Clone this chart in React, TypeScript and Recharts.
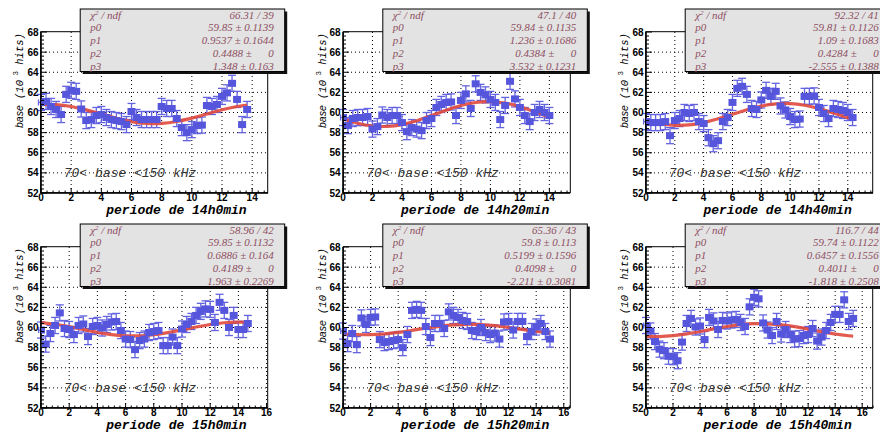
import { ComposedChart, Scatter, Line, XAxis, YAxis, ErrorBar, CartesianGrid } from 'recharts';

// bins of 20 min, x in hours
const BIN = 1 / 3;
const X_ERR = BIN / 2;
const Y_ERR = 0.8;

const Y_TICKS = [52, 54, 56, 58, 60, 62, 64, 66, 68];
const X_TICKS_TOP = [0, 2, 4, 6, 8, 10, 12, 14];
const X_TICKS_BOTTOM = [0, 2, 4, 6, 8, 10, 12, 14, 16];

const PERIODS = ['14h0min', '14h20min', '14h40min', '15h0min', '15h20min', '15h40min'];
const X_MAX = [15.05, 15.4, 15.75, 16.1, 16.45, 16.8];

const base14h0 = [61.0, 61.1, 60.6, 60.3, 59.8, 61.8, 62.2, 62.1, 60.35, 59.2, 59.3, 59.7, 59.8, 59.5, 59.3, 59.2, 59.1, 58.8, 60.1, 59.5, 59.3, 59.3, 59.3, 59.3, 60.6, 60.4, 60.4, 59.4, 58.5, 58.0, 58.3, 58.7, 58.75, 60.7, 60.6, 60.8, 61.6, 61.95, 62.9, 61.3, 58.8, 60.3];
const base14h20 = [59.5, 58.7, 59.4, 59.5, 59.5, 59.6, 58.35, 58.6, 59.75, 59.5, 59.7, 59.7, 59.0, 58.1, 58.5, 58.35, 58.2, 59.2, 59.4, 60.5, 60.8, 61.0, 61.05, 59.7, 61.2, 61.85, 60.4, 62.85, 62.0, 61.75, 61.3, 61.0, 59.3, 60.7, 63.1, 61.35, 60.5, 59.7, 59.1, 60.0, 60.3, 60.0, 59.7];
const base14h40 = [59.1, 59.0, 59.0, 59.0, 59.1, 57.7, 59.2, 59.4, 60.0, 59.9, 60.0, 59.1, 58.9, 57.5, 56.9, 57.2, 59.1, 59.5, 61.0, 62.4, 62.6, 61.8, 60.4, 60.3, 61.25, 62.2, 61.6, 62.1, 60.65, 60.25, 59.6, 59.3, 59.35, 61.6, 61.6, 61.65, 60.5, 59.9, 59.4, 60.4, 60.3, 60.2, 60.0, 59.5];
const base15h0 = [59.75, 58.35, 59.4, 60.2, 61.45, 59.9, 59.8, 59.3, 60.2, 60.35, 59.1, 60.1, 60.2, 59.95, 60.3, 60.55, 60.6, 59.7, 58.85, 58.8, 57.8, 58.7, 58.85, 59.5, 59.6, 59.7, 58.2, 58.2, 59.05, 58.2, 59.85, 60.3, 60.6, 61.2, 61.6, 61.85, 61.8, 60.5, 62.5, 61.7, 60.0, 61.2, 59.8, 59.8, 60.4];
const base15h20 = [59.65, 58.4, 59.4, 58.3, 60.95, 60.3, 61.0, 61.05, 58.8, 58.5, 58.6, 58.7, 58.8, 58.0, 59.3, 61.7, 61.8, 61.7, 60.1, 59.0, 60.4, 60.4, 59.9, 61.55, 61.2, 61.0, 60.7, 60.6, 59.7, 59.6, 60.0, 59.5, 59.3, 59.45, 58.85, 60.55, 60.6, 59.75, 60.6, 60.6, 59.1, 59.6, 60.05, 60.4, 59.6, 58.85];
const base15h40 = [60.2, 59.65, 58.6, 57.85, 57.7, 57.15, 57.1, 56.7, 58.55, 60.4, 60.9, 60.05, 60.15, 58.8, 61.0, 60.65, 59.8, 60.7, 60.65, 60.75, 60.8, 60.5, 60.1, 62.05, 63.0, 62.85, 60.45, 59.75, 59.2, 60.6, 59.35, 59.8, 59.3, 58.85, 58.9, 59.2, 59.3, 59.9, 58.65, 59.05, 59.7, 60.5, 61.3, 61.3, 62.75, 60.6, 60.9];

// fitted sine curves, read at whole hours
const fitX14h0 = [0, 1, 2, 3, 4, 5, 6, 7, 8, 9, 10, 11, 12, 13, 13.67];
const fitY14h0 = [60.78, 60.78, 60.6, 60.26, 59.85, 59.43, 59.1, 58.92, 58.92, 59.11, 59.44, 59.85, 60.27, 60.6, 60.74];
const fitX14h20 = [0, 1, 2, 3, 4, 5, 6, 7, 8, 9, 10, 11, 12, 13, 14];
const fitY14h20 = [59.37, 58.93, 58.66, 58.62, 58.8, 59.18, 59.69, 60.23, 60.69, 60.99, 61.07, 60.93, 60.57, 60.08, 59.54];
const fitX14h40 = [0, 1, 2, 3, 4, 5, 6, 7, 8, 9, 10, 11, 12, 13, 14, 14.33];
const fitY14h40 = [59.21, 58.88, 58.73, 58.77, 59.0, 59.37, 59.83, 60.28, 60.64, 60.86, 60.89, 60.72, 60.39, 59.95, 59.49, 59.34];
const fitX15h0 = [0, 1, 2, 3, 4, 5, 6, 7, 8, 9, 10, 11, 12, 13, 14, 14.67];
const fitY15h0 = [60.49, 60.32, 60.08, 59.8, 59.52, 59.3, 59.18, 59.17, 59.28, 59.49, 59.76, 60.05, 60.3, 60.47, 60.54, 60.52];
const fitX15h20 = [0, 1, 2, 3, 4, 5, 6, 7, 8, 9, 10, 11, 12, 13, 14, 15];
const fitY15h20 = [59.38, 59.29, 59.29, 59.37, 59.52, 59.72, 59.93, 60.12, 60.26, 60.32, 60.29, 60.19, 60.02, 59.81, 59.6, 59.43];
const fitX15h40 = [0, 1, 2, 3, 4, 5, 6, 7, 8, 9, 10, 11, 12, 13, 14, 15, 15.33];
const fitY15h40 = [59.11, 59.1, 59.19, 59.37, 59.6, 59.86, 60.1, 60.28, 60.38, 60.37, 60.26, 60.08, 59.83, 59.58, 59.35, 59.18, 59.14];

const SP = '\u00a0';
const CHI2 = ['66.31 / 39', '47.1 / 40', '92.32 / 41', '58.96 / 42', '65.36 / 43', '116.7 / 44'];
const P0 = ['59.85 ± 0.1139', '59.84 ± 0.1135', '59.81 ± 0.1126', '59.85 ± 0.1132', '59.8 ± 0.113', '59.74 ± 0.1122'];
const P1 = ['0.9537 ± 0.1644', '1.236 ± 0.1686', '1.09 ± 0.1683', '0.6886 ± 0.164', '0.5199 ± 0.1596', '0.6457 ± 0.1556'];
const P2 = ['0.4488', '0.4384', '0.4284', '0.4189', '0.4098', '0.4011'].map((v) => v + ' ±' + SP.repeat(6) + '0');
const P3 = ['1.348 ± 0.163', '3.532 ± 0.1231', '-2.555 ± 0.1388', '1.963 ± 0.2269', '-2.211 ± 0.3081', '-1.818 ± 0.2508'];

const BASES = [base14h0, base14h20, base14h40, base15h0, base15h20, base15h40];
const FIT_X = [fitX14h0, fitX14h20, fitX14h40, fitX15h0, fitX15h20, fitX15h40];
const FIT_Y = [fitY14h0, fitY14h20, fitY14h40, fitY15h0, fitY15h20, fitY15h40];

// layout
const PLOT_LEFT = [40.7, 343.3, 645.7];
const PLOT_TOP = [31.7, 246.7];
const PLOT_W = 227;
const PLOT_H = 161;
const ML = 40;
const MT = 10;
const MB = 20;

const MARKER = '#5656dc';
const ERRCOL = '#6464e0';
const FIT = '#e0483c';
const STAT = '#8e4f62';
const MONO = '"Liberation Mono", "DejaVu Sans Mono", monospace';
const SANS = '"Liberation Sans", Arial, sans-serif';
const SERIF = '"Liberation Serif", "Times New Roman", serif';

const isMajor = (v: number) => Math.abs(v / 2 - Math.round(v / 2)) < 1e-6;

function minorTicks(min: number, max: number) {
  const out: number[] = [];
  for (let k = 0; min + k * 0.4 <= max + 1e-9; k++) out.push(Math.round((min + k * 0.4) * 10) / 10);
  return out;
}

function renderXTick(props: any) {
  const { x, y, payload } = props;
  const major = isMajor(payload.value);
  return (
    <g key={'x' + payload.value}>
      <line x1={x} x2={x} y1={y} y2={y - (major ? 5 : 2.5)} stroke="#000" strokeWidth={1} />
      {major && (
        <text x={x} y={y + 8} textAnchor="middle" fontSize={10} fontWeight="bold" fontFamily={SANS} fill="#000">
          {payload.value}
        </text>
      )}
    </g>
  );
}

function renderYTick(props: any) {
  const { x, y, payload } = props;
  const major = isMajor(payload.value);
  return (
    <g key={'y' + payload.value}>
      <line x1={x} x2={x + (major ? 6 : 3)} y1={y} y2={y} stroke="#000" strokeWidth={1} />
      {major && (
        <text x={x - 2.5} y={y + 3.5} textAnchor="end" fontSize={10} fontWeight="bold" fontFamily={SANS} fill="#000">
          {payload.value}
        </text>
      )}
    </g>
  );
}

function Square(props: any) {
  const { cx, cy } = props;
  if (cx == null || cy == null) return null;
  return <rect x={cx - 4} y={cy - 3.5} width={8} height={7} fill={MARKER} />;
}

function Panel({ idx }: { idx: number }) {
  const col = idx % 3;
  const row = Math.floor(idx / 3);
  const pl = PLOT_LEFT[col];
  const pt = PLOT_TOP[row];
  const xMax = X_MAX[idx];
  const majorsX = row === 0 ? X_TICKS_TOP : X_TICKS_BOTTOM;
  const pts = BASES[idx].map((y, i) => ({ x: i * BIN, y, ex: X_ERR, ey: Y_ERR }));
  const fit = FIT_X[idx].map((x, i) => ({ x, y: FIT_Y[idx][i] }));

  return (
    <div style={{ position: 'absolute', left: pl - ML, top: pt - MT }}>
      <ComposedChart width={PLOT_W + ML + 10} height={PLOT_H + MT + MB} margin={{ top: MT, right: 10, bottom: 0, left: 0 }}>
        <CartesianGrid
          stroke="#000"
          strokeDasharray="1 3"
          verticalValues={majorsX.filter((v) => v > 0 && v < xMax)}
          horizontalValues={Y_TICKS.filter((v) => v > 52 && v < 68)}
        />
        <XAxis
          type="number"
          dataKey="x"
          domain={[0, xMax]}
          allowDataOverflow
          ticks={minorTicks(0, xMax)}
          interval={0}
          tick={renderXTick}
          tickLine={false}
          tickSize={0}
          tickMargin={0}
          height={MB}
          axisLine={{ stroke: '#000', strokeWidth: 1.5 }}
        />
        <YAxis
          type="number"
          dataKey="y"
          domain={[52, 68]}
          allowDataOverflow
          ticks={minorTicks(52, 68)}
          interval={0}
          tick={renderYTick}
          tickLine={false}
          tickSize={0}
          tickMargin={0}
          width={ML}
          axisLine={{ stroke: '#000', strokeWidth: 1.5 }}
        />
        <Scatter data={pts} dataKey="y" shape={<Square />} isAnimationActive={false}>
          <ErrorBar dataKey="ey" direction="y" width={4} stroke={ERRCOL} strokeWidth={1.3} />
          <ErrorBar dataKey="ex" direction="x" width={3} stroke={ERRCOL} strokeWidth={1.3} />
        </Scatter>
        <Line
          data={fit}
          dataKey="y"
          type="natural"
          stroke={FIT}
          strokeOpacity={0.9}
          strokeWidth={3.2}
          dot={false}
          activeDot={false}
          isAnimationActive={false}
        />
      </ComposedChart>
    </div>
  );
}

function Decorations({ idx }: { idx: number }) {
  const col = idx % 3;
  const row = Math.floor(idx / 3);
  const pl = PLOT_LEFT[col];
  const pt = PLOT_TOP[row];
  const y54 = pt + ((68 - 54) / 16) * PLOT_H;
  const bx = pl + 39.5;
  const by = pt - 22.7;
  const bw = 204.5;
  const bh = 62.5;
  const rows = [P0[idx], P1[idx], P2[idx], P3[idx]];
  const names = ['p0', 'p1', 'p2', 'p3'];
  return (
    <g>
      <rect x={pl} y={pt} width={PLOT_W} height={PLOT_H} fill="none" stroke="#000" strokeWidth={1} />
      <text
        transform={`translate(${pl - 17.5},${pt + 1.5}) rotate(-90)`}
        textAnchor="end"
        fontSize={10.5}
        fill="#000"
      >
        <tspan fontFamily={SANS} fontStyle="italic">base</tspan>
        <tspan fontFamily={MONO} fontStyle="italic">{SP + '(10'}</tspan>
        <tspan dy={-5} fontFamily={MONO} fontSize={7.5}>{SP + '3'}</tspan>
        <tspan dy={5} fontFamily={MONO} fontStyle="italic">{SP + 'hits)'}</tspan>
      </text>
      <text
        x={pl + PLOT_W - 21}
        y={pt + PLOT_H + 21}
        textAnchor="end"
        fontFamily={MONO}
        fontWeight="bold"
        fontStyle="italic"
        fontSize={13}
        fill="#000"
      >
        {'periode de ' + PERIODS[idx]}
      </text>
      <text x={pl + 23} y={y54 + 4} fontFamily={MONO} fontStyle="italic" fontSize={13} fill="#333">
        {'70<' + SP + 'base' + SP + '<150' + SP + 'kHz'}
      </text>
      <rect x={bx + 2.5} y={by + 2.5} width={bw} height={bh} fill="#111" />
      <rect x={bx} y={by} width={bw} height={bh} fill="#e3e3e3" stroke="#000" strokeWidth={1} />
      <g fontFamily={SERIF} fontStyle="italic" fontSize={11} fill={STAT}>
        <text x={bx + 10} y={by + 9.5}>
          <tspan>χ</tspan>
          <tspan dy={-4} fontSize={7}>2</tspan>
          <tspan dy={4}>{SP + '/' + SP + 'ndf'}</tspan>
        </text>
        <text x={bx + bw - 11} y={by + 9.5} textAnchor="end">{CHI2[idx]}</text>
        {rows.map((r, k) => (
          <g key={k}>
            <text x={bx + 10} y={by + 9.5 + (k + 1) * 12.75}>{names[k]}</text>
            <text x={bx + bw - 11} y={by + 9.5 + (k + 1) * 12.75} textAnchor="end">{r}</text>
          </g>
        ))}
      </g>
    </g>
  );
}

export default function App() {
  const ids = [0, 1, 2, 3, 4, 5];
  return (
    <div style={{ position: 'absolute', left: 0, top: 0, width: 880, height: 435, background: '#fff', overflow: 'hidden' }}>
      {ids.map((i) => (
        <Panel key={i} idx={i} />
      ))}
      <svg width={880} height={435} style={{ position: 'absolute', left: 0, top: 0, pointerEvents: 'none' }}>
        {ids.map((i) => (
          <Decorations key={i} idx={i} />
        ))}
      </svg>
    </div>
  );
}
